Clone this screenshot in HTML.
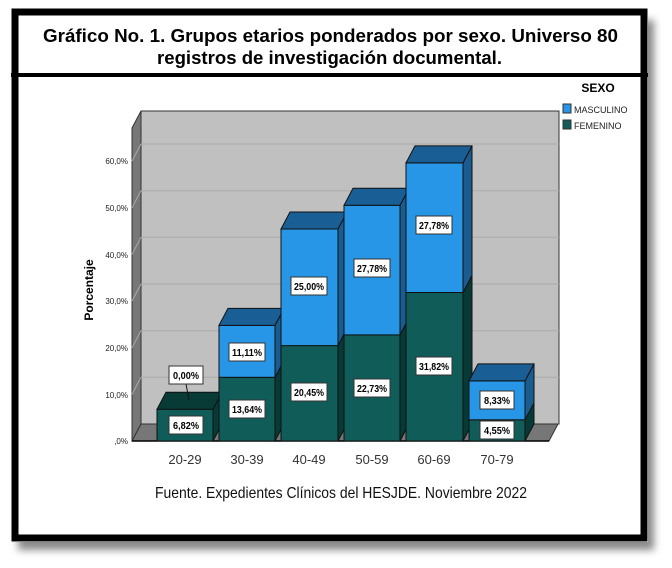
<!DOCTYPE html>
<html><head><meta charset="utf-8"><style>
body{margin:0;background:#fff;width:672px;height:568px;overflow:hidden}
svg{display:block}
</style></head><body>
<svg width="672" height="568" viewBox="0 0 672 568" xmlns="http://www.w3.org/2000/svg" font-family="Liberation Sans, sans-serif">
<defs><filter id="sh" x="-5%" y="-5%" width="115%" height="115%"><feGaussianBlur stdDeviation="4"/></filter></defs>
<rect x="18" y="20" width="636" height="530" fill="#888" filter="url(#sh)"/>
<rect x="11" y="9" width="637" height="533" fill="#fff"/>
<rect x="15" y="12" width="629" height="526" fill="none" stroke="#000" stroke-width="7"/>
<rect x="11" y="73" width="637" height="4" fill="#000"/>
<text x="43" y="42" font-size="18" font-weight="bold" textLength="575" lengthAdjust="spacingAndGlyphs">Gráfico No. 1. Grupos etarios ponderados por sexo. Universo 80</text>
<text x="157" y="64" font-size="18" font-weight="bold" textLength="345" lengthAdjust="spacingAndGlyphs">registros de investigación documental.</text>
<polygon points="132,128 141,111 141,424 132,441" fill="#777" stroke="#333" stroke-width="1"/>
<rect x="141" y="111" width="418" height="313" fill="#c0c0c0" stroke="#333" stroke-width="1"/>
<g stroke="#aaa" stroke-width="1">
<line x1="141" y1="377.3" x2="559" y2="377.3"/><line x1="141" y1="330.7" x2="559" y2="330.7"/>
<line x1="141" y1="284" x2="559" y2="284"/><line x1="141" y1="237.3" x2="559" y2="237.3"/>
<line x1="141" y1="190.7" x2="559" y2="190.7"/><line x1="141" y1="144" x2="559" y2="144"/>
<line x1="132" y1="394.3" x2="141" y2="377.3"/><line x1="132" y1="347.7" x2="141" y2="330.7"/>
<line x1="132" y1="301" x2="141" y2="284"/><line x1="132" y1="254.3" x2="141" y2="237.3"/>
<line x1="132" y1="207.7" x2="141" y2="190.7"/><line x1="132" y1="161" x2="141" y2="144"/>
</g>
<polygon points="132,441 549,441 558,424 141,424" fill="#777" stroke="#333" stroke-width="1"/>
<line x1="132" y1="441" x2="549" y2="441" stroke="#000" stroke-width="1.5"/>
<g font-size="8" text-anchor="end" fill="#222">
<text x="128" y="444">,0%</text><text x="128" y="398">10,0%</text><text x="128" y="351">20,0%</text>
<text x="128" y="304">30,0%</text><text x="128" y="258">40,0%</text><text x="128" y="211">50,0%</text><text x="128" y="164">60,0%</text>
</g>
<text transform="translate(93,290) rotate(-90)" text-anchor="middle" font-size="12" font-weight="bold">Porcentaje</text>
<g stroke="#111" stroke-width="1">
<rect x="157" y="409.2" width="56" height="31.8" fill="#0f5c58"/>
<polygon points="213,409.2 222,392.2 222,424 213,441" fill="#073a36"/>
<polygon points="157,409.2 166,392.2 222,392.2 213,409.2" fill="#083b36"/>
<rect x="219" y="377.3" width="56" height="63.7" fill="#0f5c58"/>
<polygon points="275,377.3 284,360.3 284,424 275,441" fill="#073a36"/>
<rect x="219" y="325.4" width="56" height="51.9" fill="#2796e6"/>
<polygon points="275,325.4 284,308.4 284,360.3 275,377.3" fill="#1a5c8f"/>
<polygon points="219,325.4 228,308.4 284,308.4 275,325.4" fill="#195f96"/>
<rect x="281" y="345.6" width="57" height="95.4" fill="#0f5c58"/>
<polygon points="338,345.6 347,328.6 347,424 338,441" fill="#073a36"/>
<rect x="281" y="229" width="57" height="116.6" fill="#2796e6"/>
<polygon points="338,229 347,212 347,328.6 338,345.6" fill="#1a5c8f"/>
<polygon points="281,229 290,212 347,212 338,229" fill="#195f96"/>
<rect x="344" y="334.9" width="56" height="106.1" fill="#0f5c58"/>
<polygon points="400,334.9 409,317.9 409,424 400,441" fill="#073a36"/>
<rect x="344" y="205.3" width="56" height="129.6" fill="#2796e6"/>
<polygon points="400,205.3 409,188.3 409,317.9 400,334.9" fill="#1a5c8f"/>
<polygon points="344,205.3 353,188.3 409,188.3 400,205.3" fill="#195f96"/>
<rect x="406" y="292.5" width="57" height="148.5" fill="#0f5c58"/>
<polygon points="463,292.5 472,275.5 472,424 463,441" fill="#073a36"/>
<rect x="406" y="162.9" width="57" height="129.6" fill="#2796e6"/>
<polygon points="463,162.9 472,145.9 472,275.5 463,292.5" fill="#1a5c8f"/>
<polygon points="406,162.9 415,145.9 472,145.9 463,162.9" fill="#195f96"/>
<rect x="469" y="419.8" width="56" height="21.2" fill="#0f5c58"/>
<polygon points="525,419.8 534,402.8 534,424 525,441" fill="#073a36"/>
<rect x="469" y="380.9" width="56" height="38.9" fill="#2796e6"/>
<polygon points="525,380.9 534,363.9 534,402.8 525,419.8" fill="#1a5c8f"/>
<polygon points="469,380.9 478,363.9 534,363.9 525,380.9" fill="#195f96"/>
</g>
<line x1="186" y1="384" x2="189" y2="400" stroke="#111" stroke-width="1"/>
<g font-size="10" font-weight="bold" text-anchor="middle">
<g fill="#fff" stroke="#333" stroke-width="1">
<rect x="169" y="366" width="34" height="18"/><rect x="169" y="416" width="34" height="18"/>
<rect x="229" y="343" width="36" height="18"/><rect x="229" y="400" width="36" height="18"/>
<rect x="291" y="277" width="36" height="18"/><rect x="291" y="383" width="36" height="18"/>
<rect x="354" y="259" width="36" height="18"/><rect x="354" y="379" width="36" height="18"/>
<rect x="416" y="216" width="36" height="18"/><rect x="416" y="357" width="36" height="18"/>
<rect x="480" y="391" width="34" height="18"/><rect x="480" y="421" width="34" height="18"/>
</g>
<text x="186" y="379" textLength="26" lengthAdjust="spacingAndGlyphs">0,00%</text><text x="186" y="429" textLength="26" lengthAdjust="spacingAndGlyphs">6,82%</text>
<text x="247" y="356" textLength="30" lengthAdjust="spacingAndGlyphs">11,11%</text><text x="247" y="413" textLength="30" lengthAdjust="spacingAndGlyphs">13,64%</text>
<text x="309" y="290" textLength="30" lengthAdjust="spacingAndGlyphs">25,00%</text><text x="309" y="396" textLength="30" lengthAdjust="spacingAndGlyphs">20,45%</text>
<text x="372" y="272" textLength="30" lengthAdjust="spacingAndGlyphs">27,78%</text><text x="372" y="392" textLength="30" lengthAdjust="spacingAndGlyphs">22,73%</text>
<text x="434" y="229" textLength="30" lengthAdjust="spacingAndGlyphs">27,78%</text><text x="434" y="370" textLength="30" lengthAdjust="spacingAndGlyphs">31,82%</text>
<text x="497" y="404" textLength="26" lengthAdjust="spacingAndGlyphs">8,33%</text><text x="497" y="434" textLength="26" lengthAdjust="spacingAndGlyphs">4,55%</text>
</g>
<g font-size="13" text-anchor="middle" fill="#333">
<text x="185" y="464">20-29</text><text x="247" y="464">30-39</text><text x="309" y="464">40-49</text>
<text x="372" y="464">50-59</text><text x="434" y="464">60-69</text><text x="497" y="464">70-79</text>
</g>
<text x="155" y="498" font-size="16" fill="#111" textLength="372" lengthAdjust="spacingAndGlyphs">Fuente. Expedientes Clínicos del HESJDE. Noviembre 2022</text>
<text x="598" y="92" text-anchor="middle" font-size="12" font-weight="bold">SEXO</text>
<rect x="563" y="104" width="8" height="9" fill="#2796e6" stroke="#333" stroke-width="1"/>
<rect x="563" y="120" width="8" height="9" fill="#0f5c58" stroke="#333" stroke-width="1"/>
<text x="574" y="113" font-size="9" fill="#222">MASCULINO</text>
<text x="574" y="129" font-size="9" fill="#222">FEMENINO</text>
</svg>
</body></html>
